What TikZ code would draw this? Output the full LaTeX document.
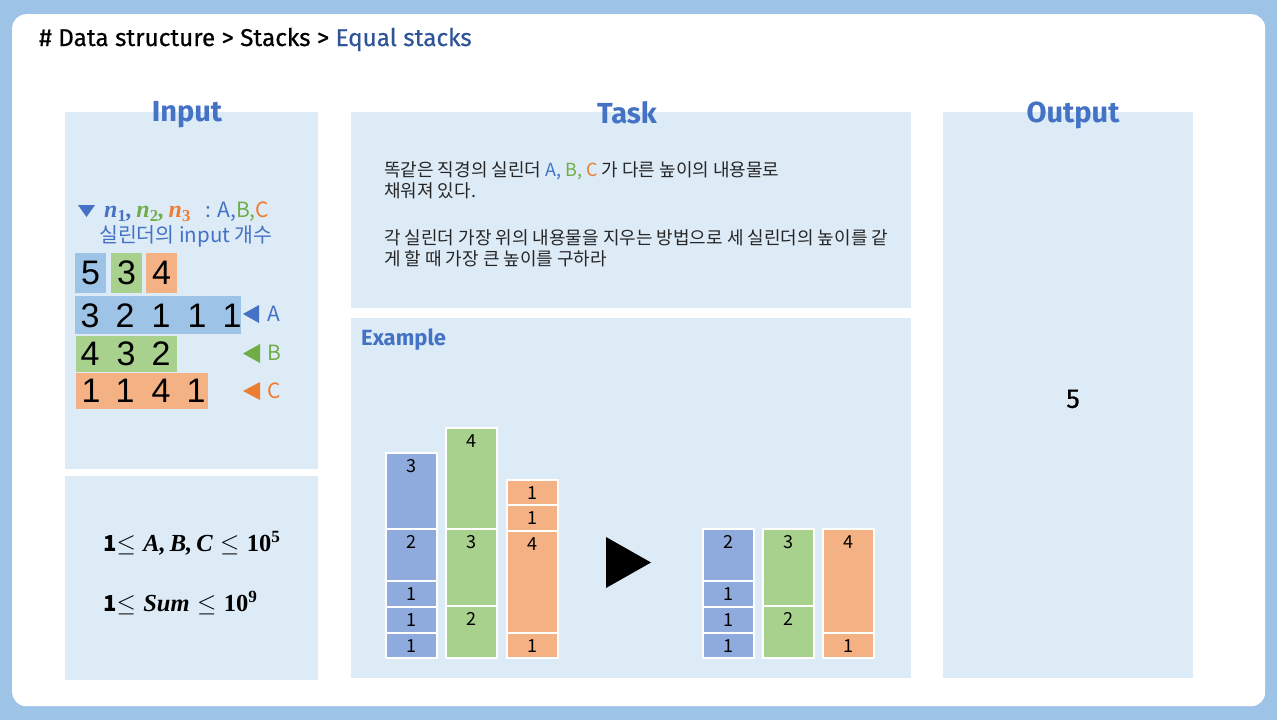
\documentclass[tikz,border=0pt]{standalone}
\usepackage{amsmath}
\usepackage{fontspec}
\newfontfamily\kr{Noto Sans CJK KR}
\newfontfamily\ttl{Fira Sans}
\newfontfamily\ttlm[FakeBold=0.6]{Fira Sans}
\newfontfamily\ar{Liberation Sans}
\newfontfamily\srf{Liberation Serif}
\definecolor{outerc}{HTML}{9DC3E6}
\definecolor{panelc}{HTML}{DDEBF7}
\definecolor{hblue}{HTML}{4472C4}
\definecolor{tblue}{HTML}{2F5597}
\definecolor{cgreen}{HTML}{70AD47}
\definecolor{corange}{HTML}{ED7D31}
\definecolor{bblue}{HTML}{9DC3E6}
\definecolor{bgreen}{HTML}{A9D18E}
\definecolor{borange}{HTML}{F4B183}
\definecolor{sblue}{HTML}{8FAADC}
\definecolor{txt}{HTML}{262626}
\newcommand{\bi}[1]{{\srf\bfseries\itshape #1}}
\newcommand{\bsub}[1]{\textsubscript{\srf\bfseries #1}}
\newcommand{\bsup}[1]{\textsuperscript{\srf\bfseries #1}}
\tikzset{
  panel/.style={fill=panelc, draw=none, anchor=north west, inner sep=0pt},
  header/.style={font=\ttl\bfseries\fontsize{29}{34}\selectfont, text=hblue, inner sep=0pt},
  inbox/.style={draw=none, anchor=north west, inner sep=0pt},
  indigit/.style={font=\ar\fontsize{34}{38}\selectfont, text=black, inner sep=0pt},
  segbox/.style={draw=white, line width=1.5pt, minimum width=51pt, anchor=north west, inner sep=0pt},
  seglabel/.style={font=\kr\fontsize{18}{20}\selectfont, text=black, anchor=north, inner sep=0pt, text height=13pt, text depth=0pt},
  tasktext/.style={font=\kr\fontsize{18}{21}\selectfont, text=txt, align=left, anchor=west, inner sep=0pt},
  rowlabel/.style={font=\kr\fontsize{21}{24}\selectfont, inner sep=0pt},
  constr/.style={anchor=west, inner sep=0pt, font=\fontsize{24.5}{28}\selectfont},
}
\newcommand{\stackseg}[6]{%
  \node[segbox, fill=#5, minimum height=#4pt] (#1) at (#2,#3) {};
  \node[seglabel] (#1t) at ([yshift=-7pt]#1.north) {#6};}
\begin{document}
\begin{tikzpicture}[x=1pt,y=-1pt]
\useasboundingbox (0,0) rectangle (1277,720);
\fill[outerc] (0,0) rectangle (1277,720);
\node[fill=white, rounded corners=14pt, minimum width=1253pt, minimum height=692pt, anchor=north west, inner sep=0pt] (frame) at (12,14) {};
% title
\node[anchor=base west, inner sep=0pt, font=\ttlm\fontsize{24.3}{28}\selectfont] (title) at (39,46) {\# Data structure > Stacks > \textcolor{tblue}{Equal stacks}};
% panels
\node[panel, minimum width=253pt, minimum height=357pt] (inTop) at (65,112) {};
\node[panel, minimum width=253pt, minimum height=204pt] (inBot) at (65,476) {};
\node[panel, minimum width=560pt, minimum height=196pt] (task) at (351,112) {};
\node[panel, minimum width=560pt, minimum height=360pt] (ex) at (351,318) {};
\node[panel, minimum width=250pt, minimum height=566pt] (out) at (943,112) {};
% headers
\node[header] (hIn) at (187,115) {Input};
\node[header] (hTask) at (627,113) {Task};
\node[header] (hOut) at (1073,115) {Output};
\node[font=\ttl\bfseries\fontsize{22}{26}\selectfont, text=hblue, anchor=west, inner sep=0pt] (hEx) at (361,340) {Example};
% output
\node[font=\ttlm\fontsize{27}{30}\selectfont, inner sep=0pt] (outv) at (1073,399) {5};
% input description
\fill[hblue] (78,205) -- (95,205) -- (86.5,217) -- cycle;
\node[anchor=west, inner sep=0pt, font=\fontsize{24}{27}\selectfont] (nline) at (104,212) {\textcolor{hblue}{\bi{n}\bsub{1}\bi{,}}\,\textcolor{cgreen}{\bi{n}\bsub{2}\bi{,}}\,\textcolor{corange}{\bi{n}\bsub{3}}\ \ {\kr\fontsize{21}{24}\selectfont\textcolor{hblue}{: A,}\textcolor{cgreen}{B,}\textcolor{corange}{C}}};
\node[anchor=west, inner sep=0pt, font=\kr\fontsize{20.5}{24}\selectfont, text=hblue] (nsub) at (99,236) {실린더의 input 개수};
% input boxes
\node[inbox, fill=bblue, minimum width=31pt, minimum height=40pt] (bn1) at (75,253) {};
\node[inbox, fill=bgreen, minimum width=31pt, minimum height=40pt] (bn2) at (111,253) {};
\node[inbox, fill=borange, minimum width=31pt, minimum height=40pt] (bn3) at (146,253) {};
\node[indigit] (dn1) at (bn1.center) {5};
\node[indigit] (dn2) at (bn2.center) {3};
\node[indigit] (dn3) at (bn3.center) {4};
\node[inbox, fill=bblue, minimum width=166pt, minimum height=38pt] (rowA) at (75,296) {};
\node[inbox, fill=bgreen, minimum width=101pt, minimum height=36pt] (rowB) at (76,336) {};
\node[inbox, fill=borange, minimum width=132pt, minimum height=36pt] (rowC) at (76,373) {};
\foreach \d/\x [count=\i] in {3/90,2/125,1/161,1/197,1/232}
  \node[indigit] (dA\i) at (\x,316) {\d};
\foreach \d/\x [count=\i] in {4/90,3/126,2/161}
  \node[indigit] (dB\i) at (\x,354) {\d};
\foreach \d/\x [count=\i] in {1/91,1/125,4/161,1/196}
  \node[indigit] (dC\i) at (\x,391) {\d};
\fill[hblue] (259,305) -- (259,323) -- (243,314) -- cycle;
\fill[cgreen] (260,344) -- (260,363) -- (243,353.5) -- cycle;
\fill[corange] (260,382) -- (260,400) -- (243,391) -- cycle;
\node[rowlabel, text=hblue] (lA) at (274,314) {A};
\node[rowlabel, text=cgreen] (lB) at (274,353) {B};
\node[rowlabel, text=corange] (lC) at (274,391) {C};
% constraints
\node[constr] (c1) at (103,543) {{\kr\bfseries\fontsize{22}{26}\selectfont 1}$\le$ \bi{A,\,B,\,C} $\le$ {\srf\bfseries 10}\bsup{5}};
\node[constr] (c2) at (103,603) {{\kr\bfseries\fontsize{22}{26}\selectfont 1}$\le$ \bi{Sum} $\le$ {\srf\bfseries 10}\bsup{9}};
% task text
\node[tasktext] (t1) at (384,180) {똑같은 직경의 실린더 \textcolor{hblue}{A,} \textcolor{cgreen}{B,} \textcolor{corange}{C} 가 다른 높이의 내용물로\\채워져 있다.};
\node[tasktext] (t2) at (384,248) {각 실린더 가장 위의 내용물을 지우는 방법으로 세 실린더의 높이를 같\\게 할 때 가장 큰 높이를 구하라};
% example stacks before
\stackseg{a1}{385}{452}{76}{sblue}{3}
\stackseg{a2}{385}{528}{52}{sblue}{2}
\stackseg{a3}{385}{580}{26}{sblue}{1}
\stackseg{a4}{385}{606}{26}{sblue}{1}
\stackseg{a5}{385}{632}{25}{sblue}{1}
\stackseg{b1}{445}{427}{101}{bgreen}{4}
\stackseg{b2}{445}{528}{77}{bgreen}{3}
\stackseg{b3}{445}{605}{52}{bgreen}{2}
\stackseg{c1s}{506}{479}{25}{borange}{1}
\stackseg{c2s}{506}{504}{26}{borange}{1}
\stackseg{c3s}{506}{530}{102}{borange}{4}
\stackseg{c4s}{506}{632}{25}{borange}{1}
% arrow
\fill[black] (606,537) -- (651,562.5) -- (606,588) -- cycle;
% after
\stackseg{pa1}{702}{528}{52}{sblue}{2}
\stackseg{pa2}{702}{580}{26}{sblue}{1}
\stackseg{pa3}{702}{606}{26}{sblue}{1}
\stackseg{pa4}{702}{632}{25}{sblue}{1}
\stackseg{pb1}{762}{528}{77}{bgreen}{3}
\stackseg{pb2}{762}{605}{52}{bgreen}{2}
\stackseg{pc1}{822}{528}{104}{borange}{4}
\stackseg{pc2}{822}{632}{25}{borange}{1}
\end{tikzpicture}
\end{document}
